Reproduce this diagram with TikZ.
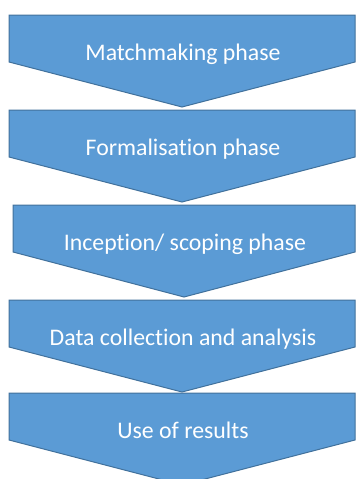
\documentclass[tikz,border=0pt]{standalone}
\usepackage{fontspec}
\setmainfont{Carlito}[Ligatures=NoCommon]
\definecolor{phasefill}{HTML}{5B9BD5}
\definecolor{phaseline}{HTML}{41719C}
\tikzset{
	phase/.style={fill=phasefill,draw=phaseline,line width=1pt,line join=miter},
	phaselabel/.style={anchor=base,text=white,inner sep=0pt,font=\fontsize{23.8}{28}\selectfont}
}

\begin{document}
\begin{tikzpicture}[x=1pt,y=-1pt]
		\useasboundingbox (0,0) rectangle (356,479);
		\foreach \top/\lft/\txt [count=\i] in {15/9/Matchmaking phase,110/9/Formalisation phase,205/13/{Inception/ scoping phase},300/9/Data collection and analysis,393/9/Use of results}{
			\draw[phase] ({\lft},{\top}) -- (355,{\top}) -- (355,{\top+47})
				-- ({(\lft+355)/2},{\top+92}) -- ({\lft},{\top+47}) -- cycle;
			\node[phaselabel] (phase\i) at ({(\lft+355)/2+1},{\top+45}) {\txt};
		}
	\end{tikzpicture}
\end{document}
